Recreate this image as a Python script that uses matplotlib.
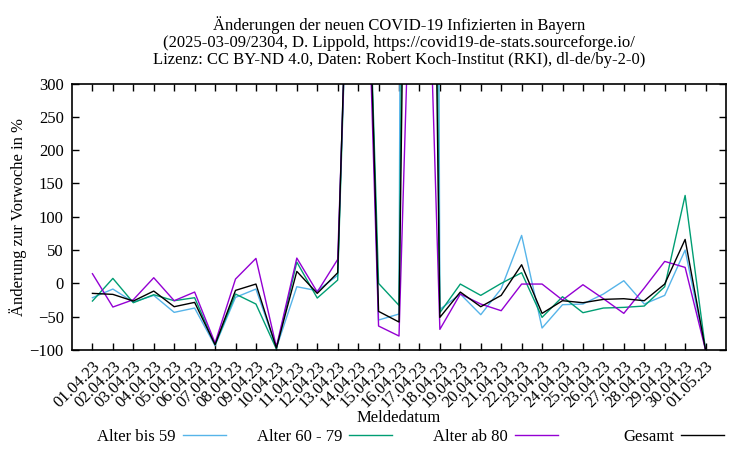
import matplotlib.pyplot as plt

plt.rcParams['font.family'] = ['Liberation Serif', 'DejaVu Serif']
plt.rcParams['font.size'] = 12

dates = ["01.04.23", "02.04.23", "03.04.23", "04.04.23", "05.04.23", "06.04.23",
         "07.04.23", "08.04.23", "09.04.23", "10.04.23", "11.04.23", "12.04.23",
         "13.04.23", "14.04.23", "15.04.23", "16.04.23", "17.04.23", "18.04.23",
         "19.04.23", "20.04.23", "21.04.23", "22.04.23", "23.04.23", "24.04.23",
         "25.04.23", "26.04.23", "27.04.23", "28.04.23", "29.04.23", "30.04.23",
         "01.05.23"]

# Änderung zur Vorwoche in %
alter_bis_59 = [-21.5, -8.5, -28, -18, -43.5, -37, -93.5, -21, -8.5, -97,
                -5, -11, 12, 1050, -55, -46, 8000, -39, -16, -47,
                -8, 72, -67, -32, -31, -16, 4, -31, -18, 50, -100]
alter_60_79 = [-26.5, 7.5, -29, -17, -26, -21.5, -92, -16, -31, -98.5,
               32, -22, 5, 1000, 0, -33, 3000, -44, -1, -18,
               0, 16, -51, -20, -44, -37, -36, -34, -5, 132, -100]
alter_ab_80 = [14.5, -35.5, -24.5, 8.5, -26, -13, -89.5, 6.5, 37.5, -95.5,
               38, -13, 36, 950, -64, -79, 950, -69, -16, -31,
               -41, -1, -1, -25, -2, -23, -45, -7, 33, 24, -100]
gesamt = [-15, -16.5, -26.5, -11.5, -35, -28.5, -92, -10.5, -1, -97,
          18, -15, 16, 1040, -42, -58, 2300, -51, -13, -35,
          -18, 28, -45, -26, -29, -24, -23, -26, -1, 66, -100]

series = [("Alter bis 59", alter_bis_59, "#56b4e9"),
          ("Alter 60 - 79", alter_60_79, "#009e73"),
          ("Alter ab 80", alter_ab_80, "#9400d3"),
          ("Gesamt", gesamt, "black")]

fig = plt.figure(figsize=(7.5, 4.5), dpi=100)
ax = fig.add_axes([0.096, 0.2222, 0.872, 0.5922])

x = list(range(len(dates)))
lines = []
for label, values, color in series:
    ln, = ax.plot(x, values, color=color, lw=1.0, label=label)
    lines.append(ln)

ax.set_xlim(-1, len(dates))
ax.set_ylim(-100, 300)
ax.set_yticks(range(-100, 301, 50))
ax.set_xticks(x)
ax.set_xticklabels(dates, rotation=45, ha='right', va='top',
                   rotation_mode='anchor')
ax.tick_params(direction='in', top=True, right=True, length=5, width=1,
               pad=6)
for s in ax.spines.values():
    s.set_linewidth(1.2)

ax.set_ylabel("Änderung zur Vorwoche in %", labelpad=2)
fig.text(0.532, 1 - 418 / 450, "Meldedatum", ha='center', va='center')

fig.text(0.532, 1 - 42 / 450,
         "Änderungen der neuen COVID-19 Infizierten in Bayern\n"
         "(2025-03-09/2304, D. Lippold, https://covid19-de-stats.sourceforge.io/\n"
         "Lizenz: CC BY-ND 4.0, Daten: Robert Koch-Institut (RKI), dl-de/by-2-0)",
         ha='center', va='center', linespacing=1.05)

# gnuplot style key: text then line sample, fixed columns
key_right = [226, 392, 558, 724]
for ln, xr in zip(lines, key_right):
    fig.legend([ln], [ln.get_label()], loc='center right',
               bbox_to_anchor=(xr / 750, 1 - 437 / 450),
               frameon=False, markerfirst=False, borderpad=0,
               borderaxespad=0, handlelength=2.6, handletextpad=0.4)

fig.savefig("out.png", dpi=100)
